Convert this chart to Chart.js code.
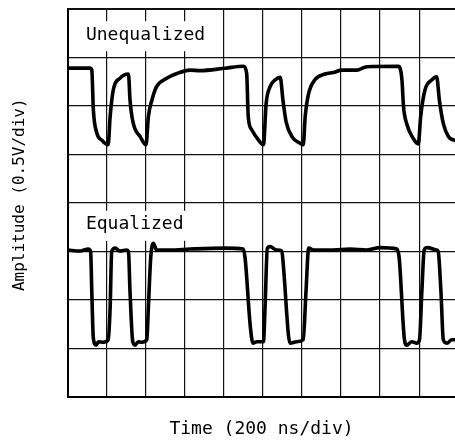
<!DOCTYPE html>
<html>
<head>
<meta charset="utf-8">
<script src="https://cdn.jsdelivr.net/npm/chart.js@4.4.1/dist/chart.umd.min.js"></script>
<style>
  html, body { margin: 0; padding: 0; background: #fff; }
  canvas { display: block; }
</style>
</head>
<body>
<canvas id="scope" width="455" height="446"></canvas>
<script>
// time in divisions (200 ns/div), amplitude in divisions (0.5 V/div)
const unequalizedTime = [0, 0.56, 0.61, 0.65, 0.74, 0.86, 1.03, 1.08, 1.16, 1.33, 1.55, 1.59, 1.67, 1.85, 2.0,
  2.06, 2.15, 2.27, 2.53, 2.79, 3.13, 3.38, 4.03, 4.49, 4.58, 4.62, 4.71, 4.88, 5.01, 5.08, 5.18, 5.31, 5.44,
  5.51, 5.59, 5.74, 5.95, 6.03, 6.08, 6.16, 6.33, 6.59, 6.80, 7.02, 7.40, 7.66, 8.47, 8.56, 8.60, 8.68, 8.85,
  8.98, 9.04, 9.15, 9.33, 9.45, 9.52, 9.62, 9.75, 9.88, 9.92];
const unequalizedAmp = [6.78, 6.78, 6.74, 5.92, 5.44, 5.30, 5.20, 5.78, 6.33, 6.57, 6.66, 6.12, 5.65, 5.37, 5.20,
  5.78, 6.12, 6.40, 6.57, 6.67, 6.74, 6.73, 6.78, 6.82, 6.67, 5.78, 5.51, 5.30, 5.20, 6.06, 6.40, 6.54, 6.59,
  6.12, 5.68, 5.37, 5.23, 5.20, 5.78, 6.23, 6.54, 6.66, 6.69, 6.74, 6.74, 6.81, 6.82, 6.54, 5.99, 5.64, 5.33,
  5.22, 5.78, 6.33, 6.54, 6.60, 6.12, 5.64, 5.37, 5.30, 5.29];

const equalizedTime = [0, 0.31, 0.52, 0.58, 0.61, 0.65, 0.72, 0.78, 0.91, 1.03, 1.08, 1.12, 1.21, 1.33, 1.51,
  1.55, 1.59, 1.66, 1.72, 1.80, 1.89, 2.02, 2.06, 2.12, 2.19, 2.27, 2.62, 3.13, 4.03, 4.49, 4.54, 4.67, 4.74,
  4.84, 5.01, 5.05, 5.11, 5.18, 5.35, 5.48, 5.52, 5.65, 5.69, 5.86, 6.03, 6.10, 6.17, 6.29, 6.80, 7.23, 7.66,
  8.0, 8.43, 8.49, 8.62, 8.68, 8.81, 8.94, 9.01, 9.07, 9.13, 9.20, 9.45, 9.49, 9.56, 9.62, 9.71, 9.84, 9.92];
const equalizedAmp = [3.03, 3.01, 3.05, 3.0, 2.17, 1.21, 1.07, 1.14, 1.13, 1.18, 1.84, 3.0, 3.07, 3.01, 3.03,
  3.0, 2.17, 1.14, 1.07, 1.14, 1.13, 1.18, 1.84, 2.87, 3.17, 3.03, 3.03, 3.05, 3.07, 3.05, 2.86, 1.48, 1.11,
  1.14, 1.14, 1.83, 3.07, 3.10, 3.03, 3.01, 2.72, 1.28, 1.11, 1.14, 1.18, 2.17, 3.07, 3.03, 3.03, 3.05, 3.03,
  3.08, 3.05, 2.86, 1.21, 1.07, 1.14, 1.11, 1.18, 2.17, 3.03, 3.08, 3.03, 3.0, 2.17, 1.18, 1.11, 1.18, 1.18];

const traceNames = ["Unequalized", "Equalized"];
const timeTicks = [0, 1, 2, 3, 4, 5, 6, 7, 8, 9];
const ampTicks = [0, 1, 2, 3, 4, 5, 6, 7, 8];
const xTitle = "Time (200 ns/div)";
const yTitle = "Amplitude (0.5V/div)";

Chart.defaults.font.family = '"DejaVu Sans Mono", monospace';
Chart.defaults.color = "#000";

const toPoints = (xs, ys) => xs.map((t, i) => ({ x: t, y: ys[i] }));

// white boxed captions over the grid (under the traces) + rotated y title
const traceLabelPlugin = {
  id: "traceLabels",
  beforeDatasetsDraw(chart, args, opts) {
    const { ctx, scales: { x, y } } = chart;
    ctx.save();
    ctx.font = opts.font;
    ctx.textBaseline = "middle";
    opts.anchors.forEach((a, i) => {
      const px = x.getPixelForValue(a.x);
      const py = y.getPixelForValue(a.y);
      const w = ctx.measureText(traceNames[i]).width;
      ctx.fillStyle = "#fff";
      ctx.fillRect(px - 6, py - 14, w + 12, 30);
      ctx.fillStyle = "#000";
      ctx.fillText(traceNames[i], px, py);
    });
    ctx.restore();
  },
  afterDraw(chart, args, opts) {
    const { ctx, scales: { y } } = chart;
    ctx.save();
    ctx.font = opts.titleFont;
    ctx.fillStyle = "#000";
    ctx.textAlign = "center";
    ctx.textBaseline = "middle";
    ctx.translate(opts.titleX, y.getPixelForValue(opts.titleAt));
    ctx.rotate(-Math.PI / 2);
    ctx.fillText(yTitle, 0, 0);
    ctx.restore();
  }
};

const traceStyle = {
  showLine: true,
  borderColor: "#000",
  borderWidth: 3.6,
  pointRadius: 0,
  cubicInterpolationMode: "monotone",
  borderJoinStyle: "round",
  borderCapStyle: "round"
};

new Chart(document.getElementById("scope"), {
  type: "scatter",
  data: {
    datasets: [
      { label: traceNames[0], data: toPoints(unequalizedTime, unequalizedAmp), ...traceStyle },
      { label: traceNames[1], data: toPoints(equalizedTime, equalizedAmp), ...traceStyle }
    ]
  },
  options: {
    responsive: false,
    animation: false,
    layout: { padding: { top: 9, right: 0, bottom: 0, left: 0 } },
    plugins: {
      legend: { display: false },
      tooltip: { enabled: false },
      traceLabels: {
        font: '18px "DejaVu Sans Mono"',
        anchors: [{ x: 0.46, y: 7.46 }, { x: 0.46, y: 3.55 }],
        titleFont: '16px "DejaVu Sans Mono"',
        titleX: 20,
        titleAt: 4.17
      }
    },
    scales: {
      x: {
        type: "linear",
        min: 0,
        max: 9.92,
        afterBuildTicks: s => { s.ticks = timeTicks.map(v => ({ value: v })); },
        afterFit: s => { s.height = 49; },
        ticks: { display: false },
        grid: { color: "#111", lineWidth: 1.2, drawTicks: false },
        border: { display: true, color: "#000", width: 2 },
        title: {
          display: true,
          text: xTitle,
          font: { size: 18 },
          padding: { top: 0, bottom: 6 }
        }
      },
      y: {
        min: 0,
        max: 8,
        afterBuildTicks: s => { s.ticks = ampTicks.map(v => ({ value: v })); },
        afterFit: s => { s.width = 68; },
        ticks: { display: false },
        grid: {
          color: "#111",
          lineWidth: c => (c.index === ampTicks.length - 1 ? 2 : 1.2),
          drawTicks: false
        },
        border: { display: true, color: "#000", width: 2 }
      }
    }
  },
  plugins: [traceLabelPlugin]
});
</script>
</body>
</html>
